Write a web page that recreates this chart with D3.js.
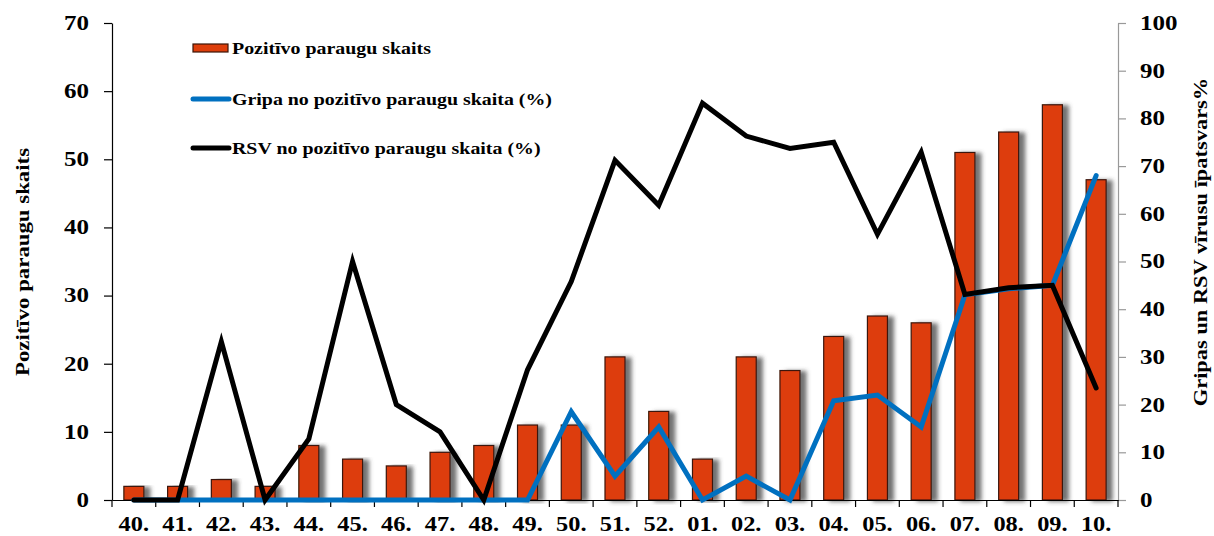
<!DOCTYPE html>
<html>
<head>
<meta charset="utf-8">
<script src="https://d3js.org/d3.v7.min.js"></script>
<style>
  body { margin: 0; background: #fff; }
  text { font-family: "Liberation Serif", "Times New Roman", serif; font-weight: bold; }
</style>
</head>
<body>
<div id="chart"></div>
<script>
// weeks
var weeks = ["40.","41.","42.","43.","44.","45.","46.","47.","48.","49.","50.","51.","52.","01.","02.","03.","04.","05.","06.","07.","08.","09.","10."];
// positive sample count (left axis)
var positives = [2,2,3,2,8,6,5,7,8,11,11,21,13,6,21,19,24,27,26,51,54,58,47];
// influenza share of positives, % (right axis)
var flu = [0,0,0,0,0,0,0,0,0,0,18.5,5,15.3,0,5,0,20.8,22,15.3,43,44.3,45,68];
// RSV share of positives, % (right axis)
var rsv = [0,0,33.2,0,12.8,50,20,14.3,0,27.3,45.8,71.2,61.8,83.2,76.3,73.7,75,55.7,72.9,43.1,44.5,45,23.5];
var leftTicks = [0,10,20,30,40,50,60,70];
var rightTicks = [0,10,20,30,40,50,60,70,80,90,100];

var W = 1214, H = 536;
var pL = 112, pR = 1118, pT = 23, pB = 500;

var svg = d3.select("#chart").append("svg")
  .attr("width", W).attr("height", H);

// the original font is wider than Liberation Serif, so stretch texts a bit
function stretch(sel, k) {
  sel.each(function() {
    var w = this.getComputedTextLength();
    d3.select(this).attr("textLength", w * k).attr("lengthAdjust", "spacingAndGlyphs");
  });
}

var defs = svg.append("defs");
var f = defs.append("filter").attr("id", "shadow")
  .attr("x", "-20%").attr("y", "-5%").attr("width", "190%").attr("height", "110%");
f.append("feDropShadow").attr("dx", 6).attr("dy", 1).attr("stdDeviation", 2.2)
  .attr("flood-color", "#444").attr("flood-opacity", 0.75);

var x = d3.scaleBand().domain(weeks).range([pL, pR]).padding(0);
var yL = d3.scaleLinear().domain([0, 70]).range([pB, pT]);
var yR = d3.scaleLinear().domain([0, 100]).range([pB, pT]);

// bars
var bw = 20;
svg.append("g").selectAll("rect")
  .data(positives)
  .enter().append("rect")
    .attr("x", function(d, i) { return x(weeks[i]) + x.bandwidth() / 2 - bw / 2; })
    .attr("y", function(d) { return yL(d); })
    .attr("width", bw)
    .attr("height", function(d) { return pB - yL(d); })
    .attr("fill", "#DD3E0B")
    .attr("stroke", "#3b1508")
    .attr("stroke-width", 1.2)
    .attr("filter", "url(#shadow)");

// left axis
var axL = svg.append("g").attr("transform", "translate(" + pL + ",0)")
  .call(d3.axisLeft(yL).tickValues(leftTicks).tickSize(8).tickSizeOuter(0).tickPadding(15));
axL.select(".domain").attr("stroke", "#000").attr("stroke-width", 1.2);
axL.selectAll(".tick line").attr("stroke", "#000").attr("stroke-width", 1.2);
axL.selectAll("text").attr("font-size", 20).attr("fill", "#000")
  .style("font-family", "Liberation Serif").style("font-weight", "bold");

// right axis
var axR = svg.append("g").attr("transform", "translate(" + pR + ",0)")
  .call(d3.axisRight(yR).tickValues(rightTicks).tickSize(8).tickSizeOuter(0).tickPadding(14));
axR.select(".domain").attr("stroke", "#999").attr("stroke-width", 1.2);
axR.selectAll(".tick line").attr("stroke", "#999").attr("stroke-width", 1.2);
axR.selectAll("text").attr("font-size", 20).attr("fill", "#000")
  .style("font-family", "Liberation Serif").style("font-weight", "bold");

// x axis
var axX = svg.append("g").attr("transform", "translate(0," + pB + ")")
  .call(d3.axisBottom(x).tickSize(0).tickPadding(17));
axX.select(".domain").attr("stroke", "#000").attr("stroke-width", 1.2);
axX.selectAll("text").attr("font-size", 20).attr("fill", "#000")
  .style("font-family", "Liberation Serif").style("font-weight", "bold");
axX.selectAll(".sep").data(weeks.concat(["end"])).enter().append("line")
  .attr("x1", function(d, i) { return pL + i * x.bandwidth(); })
  .attr("x2", function(d, i) { return pL + i * x.bandwidth(); })
  .attr("y1", 0).attr("y2", 7)
  .attr("stroke", "#000").attr("stroke-width", 1.2);

stretch(axL.selectAll("text"), 1.25);
stretch(axR.selectAll("text"), 1.25);
stretch(axX.selectAll("text"), 1.22);

// lines
var line = d3.line()
  .x(function(d, i) { return x(weeks[i]) + x.bandwidth() / 2; })
  .y(function(d) { return yR(d); });

svg.append("path").datum(flu)
  .attr("d", line).attr("fill", "none")
  .attr("stroke", "#0070C0").attr("stroke-width", 5)
  .attr("stroke-linejoin", "miter").attr("stroke-linecap", "round");

svg.append("path").datum(rsv)
  .attr("d", line).attr("fill", "none")
  .attr("stroke", "#000").attr("stroke-width", 5)
  .attr("stroke-linejoin", "miter").attr("stroke-linecap", "round");

// axis titles
var t1 = svg.append("text")
  .attr("transform", "translate(29,262) rotate(-90)")
  .attr("text-anchor", "middle").attr("font-size", 19)
  .text("Pozitīvo  paraugu skaits");
var t2 = svg.append("text")
  .attr("transform", "translate(1207,242) rotate(-90)")
  .attr("text-anchor", "middle").attr("font-size", 19)
  .text("Gripas un RSV vīrusu īpatsvars%");
stretch(t1, 1.2);
stretch(t2, 1.18);

// legend
var lg = svg.append("g");
lg.append("rect").attr("x", 193).attr("y", 44).attr("width", 35).attr("height", 8)
  .attr("fill", "#DD3E0B").attr("stroke", "#3b1508").attr("stroke-width", 1.2);
lg.append("text").attr("x", 232).attr("y", 54).attr("font-size", 17).text("Pozitīvo paraugu skaits");
lg.append("line").attr("x1", 193).attr("x2", 229).attr("y1", 99).attr("y2", 99)
  .attr("stroke", "#0070C0").attr("stroke-width", 5).attr("stroke-linecap", "round");
lg.append("text").attr("x", 232).attr("y", 105).attr("font-size", 17).text("Gripa no pozitīvo paraugu skaita (%)");
lg.append("line").attr("x1", 193).attr("x2", 229).attr("y1", 148).attr("y2", 148)
  .attr("stroke", "#000").attr("stroke-width", 5).attr("stroke-linecap", "round");
lg.append("text").attr("x", 232).attr("y", 154).attr("font-size", 17).text("RSV no pozitīvo paraugu skaita (%)");
stretch(lg.selectAll("text"), 1.17);
</script>
</body>
</html>
